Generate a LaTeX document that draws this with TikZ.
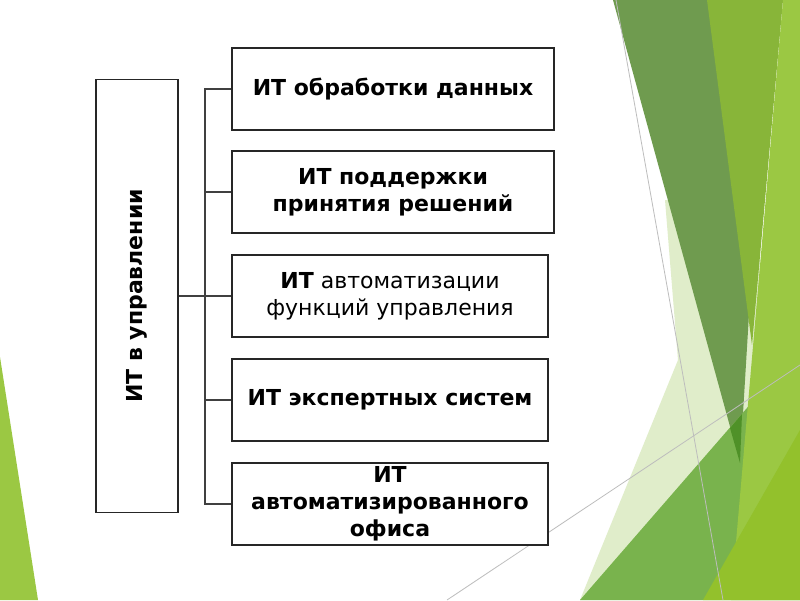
\documentclass[tikz,border=0pt]{standalone}
\usepackage{fontspec}
\setmainfont{DejaVu Sans}
\definecolor{paleg}{HTML}{E0EDCA}
\definecolor{darkg}{HTML}{6F9B4F}
\definecolor{medg}{HTML}{88B539}
\definecolor{lightg}{HTML}{9BC843}
\definecolor{bigg}{HTML}{79B34D}
\definecolor{yelg}{HTML}{93C12C}
\definecolor{tipg}{HTML}{4F9128}
\definecolor{thinl}{HTML}{BDBDBD}
\begin{document}
\begin{tikzpicture}[x=1pt,y=-1pt,
  box/.style={draw=black!85, line width=1.2pt, fill=white, align=center,
    inner sep=0pt, font=\bfseries\fontsize{22}{27}\selectfont},
  plainbox/.style={box, font=\fontsize{22}{27}\selectfont},
  conn/.style={draw=black!75, line width=1.3pt},
  deco/.style={draw=thinl, line width=0.8pt}]
\useasboundingbox (0,0) rectangle (800,600);
\fill[white] (0,0) rectangle (800,600);
% background facets
\fill[paleg] (665,200) -- (678,360) -- (580,600) -- (760,600) -- (760,200) -- cycle;
\fill[darkg] (613,0) -- (768,0) -- (740,463) -- cycle;
\fill[medg] (707,0) -- (783,0) -- (752,345) -- cycle;
\fill[bigg] (580,600) -- (800,347) -- (800,600) -- cycle;
\fill[tipg] (730,428) -- (742,414) -- (740,463) -- cycle;
\fill[lightg] (783,0) -- (800,0) -- (800,600) -- (731,600) -- cycle;
\fill[yelg] (703,600) -- (800,430) -- (800,600) -- cycle;
\fill[lightg] (0,357) -- (38,600) -- (0,600) -- cycle;
\draw[deco] (616,0) -- (723,600);
\draw[deco] (447,600) -- (800,365);
% nodes
\node[box, line width=1.7pt, minimum width=82pt, minimum height=433pt] (L) at (137,296) {};
\node[font=\bfseries\fontsize{22}{27}\selectfont, rotate=90] (Lt) at (L.center) {ИТ в управлении};
\node[box, minimum width=322pt, minimum height=82pt] (b1) at (393,89) {ИТ обработки данных};
\node[box, minimum width=322pt, minimum height=82pt] (b2) at (393,192) {ИТ поддержки\\принятия решений};
\node[plainbox, minimum width=316pt, minimum height=82pt] (b3) at (390,296) {\textbf{ИТ} автоматизации\\функций управления};
\node[box, minimum width=316pt, minimum height=82pt] (b4) at (390,400) {ИТ экспертных систем};
\node[box, minimum width=316pt, minimum height=82pt] (b5) at (390,504) {ИТ\\автоматизированного\\офиса};
% connectors
\coordinate (spine) at (205,296);
\draw[conn] (L.east) -- (spine);
\draw[conn] (spine) |- (b1.west);
\draw[conn] (spine) |- (b2.west);
\draw[conn] (spine) -- (b3.west);
\draw[conn] (spine) |- (b4.west);
\draw[conn] (spine) |- (b5.west);
\end{tikzpicture}
\end{document}
